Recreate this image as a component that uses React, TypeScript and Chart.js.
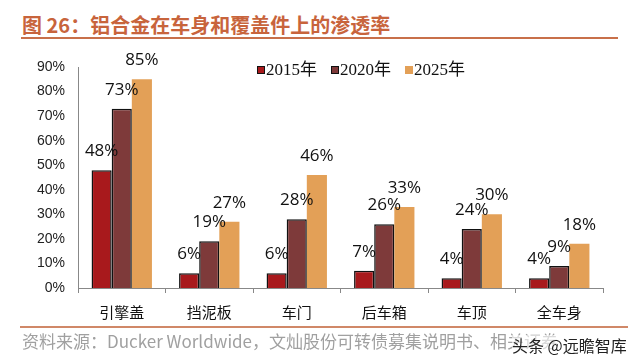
import React, { useEffect, useRef } from "react";
import { Chart, registerables } from "chart.js";

Chart.register(...registerables);

const categories = ["引擎盖", "挡泥板", "车门", "后车箱", "车顶", "全车身"];
const seriesNames = ["2015年", "2020年", "2025年"];
const values2015 = [48, 6, 6, 7, 4, 4];
const values2020 = [73, 19, 28, 26, 24, 9];
const values2025 = [85, 27, 46, 33, 30, 18];
const yTicks = [0, 10, 20, 30, 40, 50, 60, 70, 80, 90];

const colors = ["#A8191C", "#7E3A3A", "#E3A057"];
const borders = ["#111111", "#111111", "#E3A057"];

const labelPlugin = {
  id: "barLabels",
  afterDatasetsDraw(chart: any) {
    const ctx = chart.ctx;
    ctx.save();
    ctx.font = '17px "Open Sans", sans-serif';
    ctx.fillStyle = "#111";
    ctx.textAlign = "center";
    ctx.textBaseline = "middle";
    chart.data.datasets.forEach((ds: any, i: number) => {
      const meta = chart.getDatasetMeta(i);
      meta.data.forEach((bar: any, j: number) => {
        ctx.fillText(ds.data[j] + "%", bar.x, bar.y - 19);
      });
    });
    ctx.restore();
  },
};

export default function App() {
  const ref = useRef<HTMLCanvasElement>(null);
  useEffect(() => {
    document.body.style.margin = "0";
    const chart = new Chart(ref.current!, {
      type: "bar",
      data: {
        labels: categories,
        datasets: [values2015, values2020, values2025].map((d, i) => ({
          label: seriesNames[i],
          data: d,
          backgroundColor: colors[i],
          borderColor: borders[i],
          borderWidth: i < 2 ? 1.5 : 0,
          barPercentage: 1,
          categoryPercentage: 0.69,
        })),
      },
      options: {
        animation: false,
        responsive: false,
        devicePixelRatio: 1,
        layout: { padding: { left: 0, right: 37, top: 67, bottom: 0 } },
        plugins: { legend: { display: false }, tooltip: { enabled: false } },
        scales: {
          x: {
            grid: {
              offset: true,
              drawOnChartArea: false,
              tickLength: 5,
              color: "#888",
            },
            border: { color: "#888", width: 1 },
            ticks: {
              color: "#111",
              padding: 10,
              font: { family: '"Noto Sans CJK SC", sans-serif', size: 15 },
            },
            afterFit: (s: any) => {
              s.height = 76;
            },
          },
          y: {
            min: 0,
            max: 90,
            afterBuildTicks: (s: any) => {
              s.ticks = yTicks.map((v) => ({ value: v }));
            },
            grid: { display: false, drawTicks: false },
            border: { color: "#888", width: 1 },
            ticks: {
              color: "#222",
              padding: 13,
              font: { family: '"Liberation Sans", Arial, sans-serif', size: 14 },
              callback: (v: any) => v + "%",
            },
            afterFit: (s: any) => {
              s.width = 78;
            },
          },
        },
      },
      plugins: [labelPlugin],
    });
    return () => chart.destroy();
  }, []);

  const legendItem = (i: number, left: number) => (
    <div
      key={i}
      style={{
        position: "absolute",
        left,
        top: 59,
        display: "flex",
        alignItems: "center",
        fontFamily: '"Liberation Serif", "Noto Sans CJK SC", serif',
        fontSize: 17,
        lineHeight: "22px",
        color: "#111",
      }}
    >
      <span
        style={{
          display: "inline-block",
          width: 6,
          height: 6,
          background: colors[i],
          border: i < 2 ? "1px solid #111" : "1px solid " + colors[i],
          marginRight: 1,
        }}
      />
      {seriesNames[i]}
    </div>
  );

  return (
    <div
      style={{
        position: "absolute",
        left: 0,
        top: 0,
        width: 640,
        height: 364,
        background: "#fff",
        overflow: "hidden",
      }}
    >
      <div
        style={{
          position: "absolute",
          left: 22,
          top: 12,
          color: "#C8643C",
          fontFamily: '"Noto Sans CJK SC", sans-serif',
          fontWeight: 700,
          fontSize: 20,
          lineHeight: "26px",
          whiteSpace: "nowrap",
        }}
      >
        图 26：铝合金在车身和覆盖件上的渗透率
      </div>
      <div
        style={{
          position: "absolute",
          left: 21,
          top: 37,
          width: 597,
          height: 2,
          background: "#C8704A",
        }}
      />
      <canvas ref={ref} width={640} height={364} style={{ position: "absolute", left: 0, top: 0 }} />
      {legendItem(0, 257)}
      {legendItem(1, 331)}
      {legendItem(2, 405)}
      <div
        style={{
          position: "absolute",
          left: 20,
          top: 326,
          width: 608,
          height: 2,
          background: "#D08868",
        }}
      />
      <div
        style={{
          position: "absolute",
          left: 22,
          top: 331,
          color: "#A0A0A0",
          fontFamily: '"Noto Sans CJK SC", sans-serif',
          fontSize: 17,
          lineHeight: "20px",
          whiteSpace: "nowrap",
        }}
      >
        资料来源：Ducker Worldwide，文灿股份可转债募集说明书、相关证券
      </div>
      <div
        style={{
          position: "absolute",
          left: 512,
          top: 335,
          color: "#222",
          fontFamily: '"Noto Sans CJK SC", sans-serif',
          fontSize: 16,
          lineHeight: "20px",
          whiteSpace: "nowrap",
          background: "rgba(255,255,255,0.6)",
        }}
      >
        头条 @远瞻智库
      </div>
    </div>
  );
}
